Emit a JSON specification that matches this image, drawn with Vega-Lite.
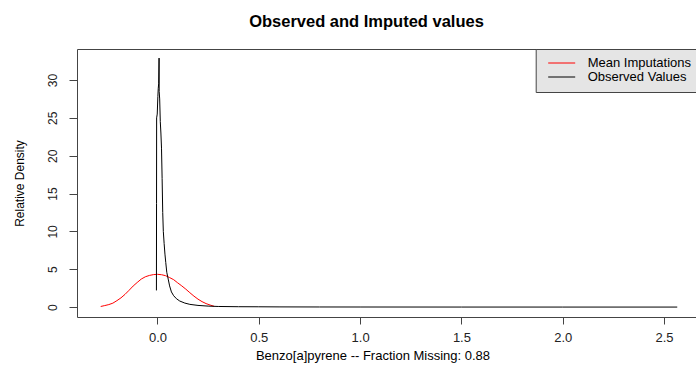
{
  "$schema": "https://vega.github.io/schema/vega-lite/v6.json",
  "width": 619,
  "height": 268,
  "autosize": {"type": "none"},
  "padding": {"left": 77, "top": 49, "right": 0, "bottom": 48},
  "background": "white",
  "title": {"text": "Observed and Imputed values", "font": "Liberation Sans", "fontSize": 16.5, "fontWeight": "bold", "color": "#000000", "anchor": "middle", "frame": "group", "dx": -20, "baseline": "alphabetic", "offset": 5},
  "data": {"values": [
    {"series": "Mean Imputations", "x": -0.28, "density": 0.08},
    {"series": "Mean Imputations", "x": -0.26, "density": 0.2},
    {"series": "Mean Imputations", "x": -0.24, "density": 0.33},
    {"series": "Mean Imputations", "x": -0.22, "density": 0.52},
    {"series": "Mean Imputations", "x": -0.2, "density": 0.85},
    {"series": "Mean Imputations", "x": -0.18, "density": 1.22},
    {"series": "Mean Imputations", "x": -0.16, "density": 1.68},
    {"series": "Mean Imputations", "x": -0.14, "density": 2.22},
    {"series": "Mean Imputations", "x": -0.12, "density": 2.78},
    {"series": "Mean Imputations", "x": -0.1, "density": 3.25},
    {"series": "Mean Imputations", "x": -0.08, "density": 3.7},
    {"series": "Mean Imputations", "x": -0.06, "density": 4.0},
    {"series": "Mean Imputations", "x": -0.04, "density": 4.18},
    {"series": "Mean Imputations", "x": -0.02, "density": 4.29},
    {"series": "Mean Imputations", "x": 0.0, "density": 4.33},
    {"series": "Mean Imputations", "x": 0.02, "density": 4.28},
    {"series": "Mean Imputations", "x": 0.04, "density": 4.15},
    {"series": "Mean Imputations", "x": 0.06, "density": 3.9},
    {"series": "Mean Imputations", "x": 0.08, "density": 3.62},
    {"series": "Mean Imputations", "x": 0.1, "density": 3.2},
    {"series": "Mean Imputations", "x": 0.12, "density": 2.8},
    {"series": "Mean Imputations", "x": 0.14, "density": 2.37},
    {"series": "Mean Imputations", "x": 0.16, "density": 1.9},
    {"series": "Mean Imputations", "x": 0.18, "density": 1.45},
    {"series": "Mean Imputations", "x": 0.2, "density": 1.05},
    {"series": "Mean Imputations", "x": 0.22, "density": 0.72},
    {"series": "Mean Imputations", "x": 0.24, "density": 0.46},
    {"series": "Mean Imputations", "x": 0.26, "density": 0.27},
    {"series": "Mean Imputations", "x": 0.28, "density": 0.1},
    {"series": "Observed Values", "x": -0.005, "density": 2.2},
    {"series": "Observed Values", "x": -0.0045, "density": 13.7},
    {"series": "Observed Values", "x": -0.004, "density": 25.0},
    {"series": "Observed Values", "x": -0.001, "density": 25.5},
    {"series": "Observed Values", "x": 0.002, "density": 27.8},
    {"series": "Observed Values", "x": 0.004, "density": 28.9},
    {"series": "Observed Values", "x": 0.006, "density": 29.5},
    {"series": "Observed Values", "x": 0.008, "density": 32.9},
    {"series": "Observed Values", "x": 0.0085, "density": 28.5},
    {"series": "Observed Values", "x": 0.011, "density": 27.5},
    {"series": "Observed Values", "x": 0.014, "density": 24.5},
    {"series": "Observed Values", "x": 0.017, "density": 23.0},
    {"series": "Observed Values", "x": 0.02, "density": 21.0},
    {"series": "Observed Values", "x": 0.023, "density": 17.0},
    {"series": "Observed Values", "x": 0.026, "density": 12.5},
    {"series": "Observed Values", "x": 0.029, "density": 10.0},
    {"series": "Observed Values", "x": 0.033, "density": 8.4},
    {"series": "Observed Values", "x": 0.037, "density": 7.0},
    {"series": "Observed Values", "x": 0.041, "density": 5.9},
    {"series": "Observed Values", "x": 0.046, "density": 4.6},
    {"series": "Observed Values", "x": 0.053, "density": 3.7},
    {"series": "Observed Values", "x": 0.06, "density": 2.8},
    {"series": "Observed Values", "x": 0.069, "density": 2.0},
    {"series": "Observed Values", "x": 0.08, "density": 1.5},
    {"series": "Observed Values", "x": 0.094, "density": 1.1},
    {"series": "Observed Values", "x": 0.11, "density": 0.8},
    {"series": "Observed Values", "x": 0.135, "density": 0.53},
    {"series": "Observed Values", "x": 0.16, "density": 0.36},
    {"series": "Observed Values", "x": 0.2, "density": 0.22},
    {"series": "Observed Values", "x": 0.25, "density": 0.13},
    {"series": "Observed Values", "x": 0.3, "density": 0.08},
    {"series": "Observed Values", "x": 0.4, "density": 0.05},
    {"series": "Observed Values", "x": 0.5, "density": 0.04},
    {"series": "Observed Values", "x": 0.6, "density": 0.025},
    {"series": "Observed Values", "x": 0.8, "density": 0.015},
    {"series": "Observed Values", "x": 1.0, "density": 0.01},
    {"series": "Observed Values", "x": 1.5, "density": 0.005},
    {"series": "Observed Values", "x": 2.0, "density": 0.003},
    {"series": "Observed Values", "x": 2.565, "density": 0.002}
  ]},
  "layer": [
    {
      "mark": {"type": "line", "strokeWidth": 1},
      "encoding": {
        "x": {
          "field": "x", "type": "quantitative",
          "scale": {"domain": [-0.397, 2.6576], "nice": false, "zero": false},
          "axis": {"values": [0, 0.5, 1, 1.5, 2, 2.5], "format": ".1f", "title": "Benzo[a]pyrene -- Fraction Missing: 0.88", "titleFont": "Liberation Sans", "titleFontSize": 13, "titleFontWeight": "normal", "titleColor": "#000000", "titleX": 295.5, "titleY": 42, "titleBaseline": "alphabetic", "titleAlign": "center", "labelFont": "Liberation Sans", "labelFontSize": 13, "labelColor": "#222222", "labelPadding": 7, "labelBaseline": "top", "tickSize": 7, "tickColor": "#444444", "domainColor": "#444444", "labelFlush": false, "labelOverlap": false, "grid": false}
        },
        "y": {
          "field": "density", "type": "quantitative",
          "scale": {"domain": [-1.31, 34.1], "nice": false, "zero": false},
          "axis": {"values": [0, 5, 10, 15, 20, 25, 30], "title": "Relative Density", "titleFont": "Liberation Sans", "titleFontSize": 12, "titleFontWeight": "normal", "titleColor": "#000000", "titleAngle": -90, "titleX": -54, "titleY": 134, "titleBaseline": "alphabetic", "titleAlign": "center", "labelAngle": -90, "labelAlign": "center", "labelBaseline": "alphabetic", "labelPadding": 13, "labelFont": "Liberation Sans", "labelFontSize": 12, "labelColor": "#222222", "tickSize": 8, "tickColor": "#444444", "domainColor": "#444444", "labelFlush": false, "labelOverlap": false, "grid": false}
        },
        "color": {
          "field": "series", "type": "nominal",
          "scale": {"domain": ["Mean Imputations", "Observed Values"], "range": ["#ff0000", "#000000"]},
          "legend": {"orient": "none", "legendX": 458.7, "legendY": 0, "title": null, "symbolType": "stroke", "symbolSize": 729, "symbolStrokeWidth": 1, "clipHeight": 12, "rowPadding": 1, "padding": 8, "symbolOffset": 4, "labelOffset": 12, "labelFont": "Liberation Sans", "labelFontSize": 13, "labelColor": "#000000", "fillColor": "#e5e5e5", "strokeColor": "#444444", "cornerRadius": 0}
        }
      }
    },
    {
      "mark": {"type": "point", "opacity": 0},
      "encoding": {
        "x": {"field": "x", "type": "quantitative", "axis": {"orient": "top", "labels": false, "ticks": false, "grid": false, "title": null, "domain": true, "domainColor": "#444444"}}
      }
    }
  ],
  "resolve": {"axis": {"x": "independent"}},
  "config": {"view": {"stroke": null}, "axis": {"grid": false}}
}
